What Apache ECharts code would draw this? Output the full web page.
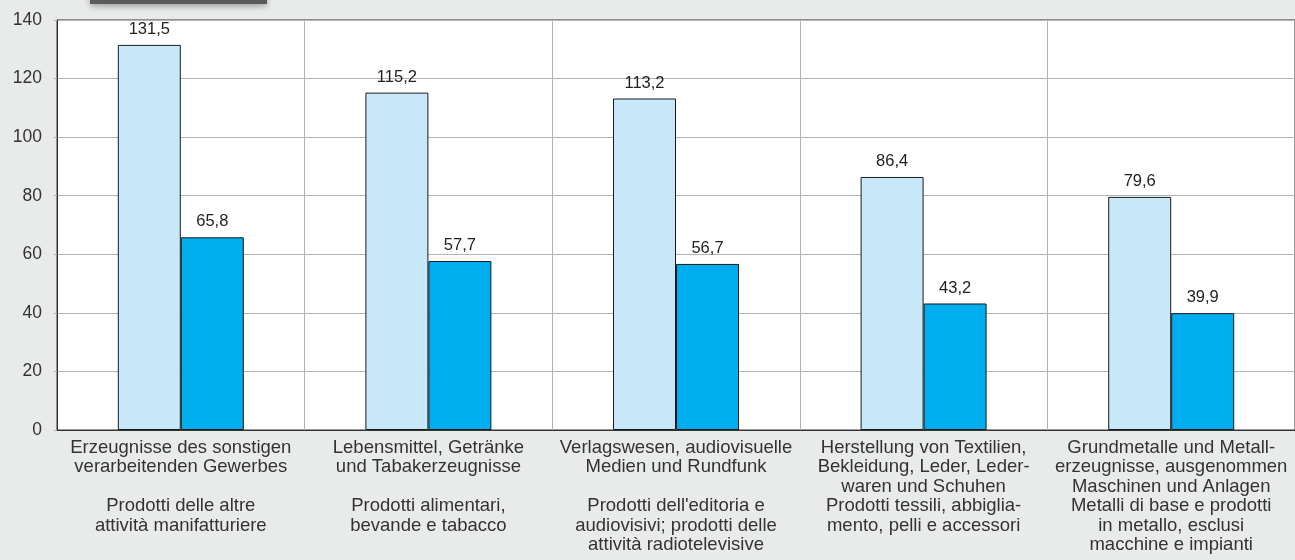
<!DOCTYPE html>
<html>
<head>
<meta charset="utf-8">
<script src="https://cdn.jsdelivr.net/npm/echarts@6/dist/echarts.min.js"></script>
<style>
  html, body { margin: 0; padding: 0; background: #e9eaea; }
  #chart { width: 1295px; height: 560px; }
</style>
</head>
<body>
<div id="chart"></div>
<script>
const categories = [
  "Erzeugnisse des sonstigen\nverarbeitenden Gewerbes\n\nProdotti delle altre\nattività manifatturiere",
  "Lebensmittel, Getränke\nund Tabakerzeugnisse\n\nProdotti alimentari,\nbevande e tabacco",
  "Verlagswesen, audiovisuelle\nMedien und Rundfunk\n\nProdotti dell'editoria e\naudiovisivi; prodotti delle\nattività radiotelevisive",
  "Herstellung von Textilien,\nBekleidung, Leder, Leder-\nwaren und Schuhen\nProdotti tessili, abbiglia-\nmento, pelli e accessori",
  "Grundmetalle und Metall-\nerzeugnisse, ausgenommen\nMaschinen und Anlagen\nMetalli di base e prodotti\nin metallo, esclusi\nmacchine e impianti"
];
const lightValues = [131.5, 115.2, 113.2, 86.4, 79.6];
const darkValues = [65.8, 57.7, 56.7, 43.2, 39.9];

const fmt = (p) => String(p.value).replace(".", ",");

const chart = echarts.init(document.getElementById("chart"));
chart.setOption({
  backgroundColor: "#e9eaea",
  animation: false,
  textStyle: { fontFamily: "Liberation Sans, Arial, sans-serif" },
  grid: {
    left: 57,
    right: -2,
    top: 20,
    bottom: 130,
    show: true,
    backgroundColor: "#ffffff",
    borderColor: "#333333",
    borderWidth: 1
  },
  graphic: [
    {
      type: "rect",
      shape: { x: 90, y: -4, width: 177, height: 8 },
      style: { fill: "#5a5a5a", shadowBlur: 6, shadowColor: "rgba(0,0,0,0.35)", shadowOffsetY: 2 }
    }
  ],
  xAxis: {
    type: "category",
    data: categories,
    boundaryGap: true,
    axisLine: { lineStyle: { color: "#333333", width: 1 } },
    axisTick: { show: false },
    splitLine: { show: true, lineStyle: { color: "#b3b3b3", width: 1 } },
    axisLabel: {
      interval: 0,
      color: "#333333",
      fontSize: 18.5,
      lineHeight: 19.5,
      margin: 8,
      align: "center"
    }
  },
  yAxis: {
    type: "value",
    min: 0,
    max: 140,
    interval: 20,
    axisLine: { show: true, lineStyle: { color: "#333333" } },
    axisTick: { show: true, length: 3, lineStyle: { color: "#b3b3b3" } },
    splitLine: { lineStyle: { color: "#b3b3b3", width: 1 } },
    axisLabel: { color: "#333333", fontSize: 17.5, margin: 15 }
  },
  series: [
    {
      type: "bar",
      data: lightValues,
      barWidth: 63,
      barGap: "0%",
      itemStyle: { color: "#c6e8f8", borderColor: "#1a1a1a", borderWidth: 1 },
      label: { show: true, position: "top", distance: 7, color: "#222222", fontSize: 16.5, formatter: fmt }
    },
    {
      type: "bar",
      data: darkValues,
      barWidth: 63,
      barGap: "0%",
      itemStyle: { color: "#00aeef", borderColor: "#1a1a1a", borderWidth: 1 },
      label: { show: true, position: "top", distance: 7, color: "#222222", fontSize: 16.5, formatter: fmt }
    }
  ]
});
</script>
</body>
</html>
